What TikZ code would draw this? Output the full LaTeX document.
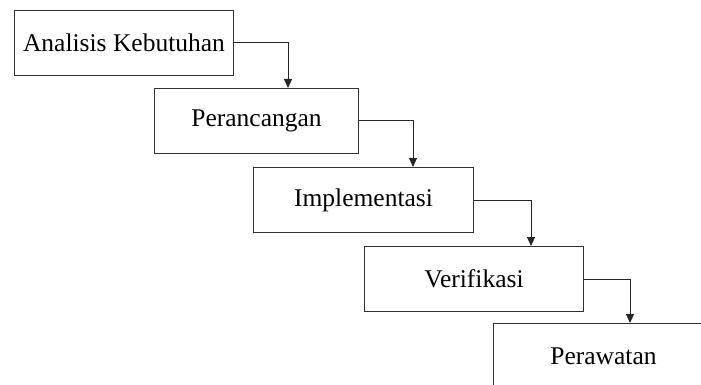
\documentclass[tikz,border=0pt]{standalone}
\usepackage{fontspec}
\setmainfont{Liberation Serif}
\usetikzlibrary{arrows.meta}

\tikzset{
    tahap/.style={draw=black!80, line width=1pt, anchor=north west, minimum height=65pt, inner sep=0pt, font=\fontsize{25.5}{30}\selectfont},
    alur/.style={-{Triangle[width=8pt,length=9pt]}, line width=1pt, black!85}
}

\begin{document}
\begin{tikzpicture}[x=1pt, y=-1pt]
    \useasboundingbox (0,0) rectangle (701,385);
    \clip (0,0) rectangle (701,385);

    % Tahapan
    \node[tahap, minimum width=219pt] (analisis) at (14,10) {Analisis Kebutuhan};
    \node[tahap, minimum width=204pt] (rancang) at (154,88) {Perancangan};
    \node[tahap, minimum width=220pt] (impl) at (253,167) {Implementasi};
    \node[tahap, minimum width=219pt] (verif) at (364,246) {Verifikasi};
    \node[tahap, minimum width=220pt] (rawat) at (493,323) {Perawatan};

    % Panah
    \draw[alur] (analisis.east) -| ([xshift=134pt]rancang.north west);
    \draw[alur] (rancang.east) -| ([xshift=160pt]impl.north west);
    \draw[alur] (impl.east) -| ([xshift=167pt]verif.north west);
    \draw[alur] (verif.east) -| ([xshift=137pt]rawat.north west);

\end{tikzpicture}
\end{document}
